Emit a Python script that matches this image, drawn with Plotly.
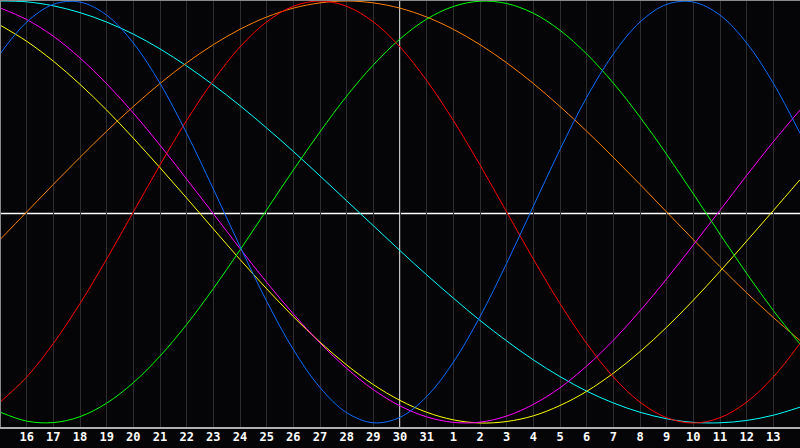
import plotly.graph_objects as go

# x positions: day index 0..30 (0 = 15th, 15 = 30th "today", 30 = 14th)
day_index = list(range(31))
tick_index = list(range(1, 30))
tick_labels = [str(d) for d in range(16, 32)] + [str(d) for d in range(1, 14)]

blue = [0.749, 0.900, 0.984, 0.995, 0.933, 0.801, 0.610, 0.373, 0.109, -0.163,
        -0.423, -0.652, -0.832, -0.951, -0.999, -0.973, -0.875, -0.712, -0.496, -0.243,
        0.027, 0.296, 0.543, 0.749, 0.900, 0.984, 0.995, 0.933, 0.801, 0.610, 0.373]
red = [-0.901, -0.782, -0.623, -0.434, -0.223, 0.0, 0.223, 0.434, 0.623, 0.782,
       0.901, 0.975, 1.0, 0.975, 0.901, 0.782, 0.623, 0.434, 0.223, 0.0,
       -0.223, -0.434, -0.623, -0.782, -0.901, -0.975, -1.0, -0.975, -0.901, -0.782, -0.623]
green = [-0.948, -0.991, -0.998, -0.970, -0.906, -0.809, -0.683, -0.533, -0.363, -0.180,
         0.010, 0.199, 0.380, 0.549, 0.697, 0.820, 0.914, 0.974, 0.999, 0.988,
         0.942, 0.861, 0.749, 0.611, 0.450, 0.273, 0.086, -0.105, -0.291, -0.467, -0.626]
orange = [-0.131, 0.0, 0.131, 0.259, 0.383, 0.5, 0.609, 0.707, 0.793, 0.866,
          0.924, 0.966, 0.991, 1.0, 0.991, 0.966, 0.924, 0.866, 0.793, 0.707,
          0.609, 0.5, 0.383, 0.259, 0.131, 0.0, -0.131, -0.259, -0.383, -0.5, -0.609]
yellow = [0.886, 0.809, 0.715, 0.605, 0.483, 0.350, 0.210, 0.066, -0.080, -0.225,
          -0.364, -0.496, -0.617, -0.725, -0.818, -0.893, -0.949, -0.985, -1.0, -0.993,
          -0.966, -0.917, -0.850, -0.764, -0.662, -0.546, -0.418, -0.281, -0.138, 0.007, 0.153]
magenta = [0.967, 0.912, 0.833, 0.730, 0.608, 0.469, 0.317, 0.156, -0.008, -0.173,
           -0.333, -0.483, -0.621, -0.741, -0.842, -0.919, -0.971, -0.997, -0.996, -0.967,
           -0.912, -0.833, -0.730, -0.608, -0.469, -0.317, -0.156, 0.008, 0.173, 0.333, 0.483]
cyan = [1.0, 0.996, 0.977, 0.945, 0.900, 0.843, 0.773, 0.692, 0.602, 0.504,
        0.398, 0.287, 0.171, 0.053, -0.065, -0.183, -0.298, -0.408, -0.514, -0.611,
        -0.701, -0.780, -0.849, -0.905, -0.949, -0.980, -0.997, -0.999, -0.988, -0.963, -0.925]

series = [
    ("cyan", cyan, "#00ffff"),
    ("orange", orange, "#ff8000"),
    ("yellow", yellow, "#ffff00"),
    ("magenta", magenta, "#ff00ff"),
    ("green", green, "#00ff00"),
    ("red", red, "#ff0000"),
    ("blue", blue, "#0a6cff"),
]

fig = go.Figure()
for name, vals, col in series:
    fig.add_trace(go.Scatter(x=day_index, y=vals, mode="lines", name=name,
                             line=dict(color=col, width=1, shape="spline", smoothing=1),
                             hoverinfo="skip"))

shapes = [
    dict(type="line", xref="x", yref="paper", x0=15, x1=15, y0=0, y1=1,
         line=dict(color="white", width=1.5), layer="below"),
    dict(type="line", xref="paper", yref="y", x0=0, x1=1, y0=-0.007, y1=-0.007,
         line=dict(color="white", width=1.5), layer="below"),
    dict(type="line", xref="paper", yref="paper", x0=0, x1=1, y0=1, y1=1,
         line=dict(color="#8a8a8a", width=2)),
    dict(type="line", xref="paper", yref="paper", x0=0, x1=0, y0=0, y1=1,
         line=dict(color="#8a8a8a", width=2)),
    dict(type="line", xref="paper", yref="paper", x0=0, x1=1, y0=0, y1=0,
         line=dict(color="#b0b0b0", width=2)),
]

fig.update_layout(
    width=800, height=448,
    margin=dict(l=0, r=0, t=0, b=20),
    paper_bgcolor="#050507", plot_bgcolor="#050507",
    showlegend=False,
    shapes=shapes,
    xaxis=dict(range=[0, 30], tickmode="array", tickvals=tick_index, ticktext=tick_labels,
               showgrid=True, gridcolor="#2e2e2e", gridwidth=1, zeroline=False,
               showline=False, ticks="", ticklen=0,
               tickfont=dict(family="DejaVu Sans Mono", size=12, color="white", weight="bold")),
    yaxis=dict(range=[-1.0237, 1.0047], showgrid=False, zeroline=False,
               showticklabels=False, showline=False, fixedrange=True),
)

fig.write_html(
    "out.html",
    config={"displayModeBar": False},
    post_script="document.body.style.margin='0';document.body.style.background='#050507';",
)
